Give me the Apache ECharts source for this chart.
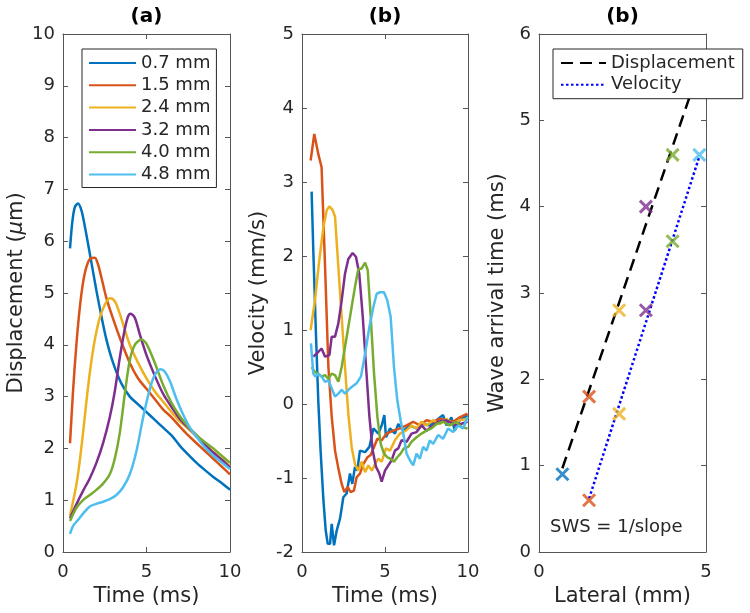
<!DOCTYPE html>
<html>
<head>
<meta charset="utf-8">
<script src="https://cdn.jsdelivr.net/npm/echarts@6/dist/echarts.min.js"></script>
<style>
  html, body { margin: 0; padding: 0; background: #fff; }
  #main { width: 750px; height: 613px; }
</style>
</head>
<body>
<div id="main"></div>
<script>
// MATLAB default colours, one per lateral position
const colors = ['#0072BD', '#D95319', '#EDB120', '#7E2F8E', '#77AC30', '#4DBEEE'];
const sizeLabels = ['0.7 mm', '1.5 mm', '2.4 mm', '3.2 mm', '4.0 mm', '4.8 mm'];

// (a) displacement [time ms, um]
const disp07 = [[0.42,5.86],[0.55,6.35],[0.7,6.65],[0.9,6.73],[1.1,6.6],[1.3,6.3],[1.5,5.95],[1.75,5.5],[2.0,5.05],[2.3,4.55],[2.6,4.1],[3.0,3.65],[3.5,3.25],[4.0,3.0],[4.5,2.85],[5.0,2.7],[5.5,2.55],[6.0,2.4],[6.5,2.25],[7.0,2.05],[7.5,1.88],[8.0,1.72],[8.5,1.58],[9.0,1.45],[9.5,1.33],[10.0,1.2]];
const disp15 = [[0.42,2.1],[0.6,3.1],[0.8,4.0],[1.0,4.7],[1.2,5.2],[1.4,5.5],[1.65,5.67],[1.9,5.68],[2.1,5.55],[2.3,5.3],[2.6,4.9],[3.0,4.5],[3.5,4.05],[4.0,3.65],[4.5,3.35],[5.0,3.15],[5.5,2.95],[6.0,2.75],[6.5,2.6],[7.0,2.42],[7.5,2.25],[8.0,2.1],[8.5,1.95],[9.0,1.8],[9.5,1.65],[10.0,1.5]];
const disp24 = [[0.42,0.7],[0.8,1.3],[1.0,1.75],[1.2,2.3],[1.4,2.9],[1.6,3.45],[1.8,3.9],[2.0,4.25],[2.2,4.52],[2.5,4.77],[2.8,4.9],[3.0,4.88],[3.2,4.78],[3.5,4.5],[4.0,4.0],[4.5,3.65],[5.0,3.35],[5.5,3.1],[6.0,2.9],[6.5,2.7],[7.0,2.52],[7.5,2.38],[8.0,2.23],[8.5,2.08],[9.0,1.93],[9.5,1.8],[10.0,1.65]];
const disp32 = [[0.42,0.65],[0.8,0.92],[1.2,1.18],[1.6,1.42],[2.0,1.72],[2.4,2.1],[2.8,2.6],[3.1,3.1],[3.4,3.75],[3.7,4.3],[3.9,4.55],[4.05,4.6],[4.3,4.52],[4.6,4.2],[5.0,3.8],[5.5,3.4],[6.0,3.05],[6.5,2.8],[7.0,2.57],[7.5,2.4],[8.0,2.25],[8.5,2.07],[9.0,1.92],[9.5,1.78],[10.0,1.63]];
const disp40 = [[0.42,0.6],[0.8,0.85],[1.2,1.0],[1.6,1.1],[2.0,1.2],[2.4,1.32],[2.8,1.5],[3.1,1.8],[3.4,2.3],[3.7,3.05],[4.0,3.7],[4.3,4.0],[4.7,4.1],[5.0,4.02],[5.5,3.65],[6.0,3.22],[6.5,2.88],[7.0,2.62],[7.5,2.42],[8.0,2.25],[8.5,2.12],[9.0,2.0],[9.5,1.86],[10.0,1.72]];
const disp48 = [[0.42,0.35],[0.6,0.5],[0.9,0.62],[1.2,0.74],[1.6,0.88],[2.0,0.93],[2.4,0.97],[2.8,1.02],[3.2,1.1],[3.6,1.25],[4.0,1.5],[4.4,1.95],[4.8,2.6],[5.2,3.15],[5.5,3.42],[5.85,3.53],[6.1,3.48],[6.4,3.3],[6.8,2.95],[7.2,2.65],[7.6,2.4],[8.0,2.22],[8.5,2.02],[9.0,1.86],[9.5,1.73],[10.0,1.6]];

// (b) velocity [time ms, mm/s]
const vel07 = [[0.58,2.87],[0.68,2.08],[0.84,0.95],[0.98,0.05],[1.12,-0.63],[1.29,-1.3],[1.43,-1.71],[1.55,-1.89],[1.69,-1.89],[1.79,-1.62],[1.93,-1.91],[2.09,-1.71],[2.29,-1.55],[2.49,-1.26],[2.69,-1.21],[2.89,-0.94],[3.03,-1.08],[3.19,-0.85],[3.33,-0.9],[3.49,-0.63],[3.8,-0.65],[4.06,-0.58],[4.3,-0.33],[4.6,-0.4],[4.8,-0.29],[4.96,-0.15],[5.06,-0.45],[5.3,-0.33],[5.6,-0.4],[5.8,-0.27],[6.1,-0.36],[6.5,-0.29],[6.9,-0.33],[7.3,-0.27],[7.7,-0.29],[8.1,-0.22],[8.5,-0.15],[8.7,-0.29],[9.0,-0.18],[9.2,-0.36],[9.5,-0.22],[9.97,-0.15]];
const vel15 = [[0.52,3.29],[0.74,3.65],[0.98,3.38],[1.18,3.2],[1.39,1.85],[1.59,0.5],[1.79,-0.17],[1.99,-0.63],[2.19,-0.87],[2.39,-1.08],[2.55,-1.19],[2.75,-1.12],[2.93,-1.19],[3.13,-1.17],[3.29,-0.99],[3.49,-0.94],[3.7,-0.81],[3.94,-0.72],[4.14,-0.69],[4.34,-0.58],[4.54,-0.47],[4.8,-0.49],[5.1,-0.4],[5.5,-0.36],[5.9,-0.33],[6.3,-0.29],[6.7,-0.24],[7.1,-0.29],[7.5,-0.22],[7.9,-0.24],[8.3,-0.2],[8.7,-0.22],[9.1,-0.24],[9.5,-0.18],[9.97,-0.13]];
const vel24 = [[0.52,1.0],[0.78,1.4],[1.04,1.94],[1.29,2.39],[1.49,2.62],[1.65,2.67],[1.85,2.62],[1.99,2.53],[2.19,1.85],[2.39,1.18],[2.59,0.5],[2.79,-0.13],[2.99,-0.58],[3.19,-0.81],[3.39,-0.9],[3.59,-0.78],[3.8,-0.92],[4.0,-0.83],[4.2,-0.9],[4.4,-0.81],[4.6,-0.74],[4.8,-0.78],[5.06,-0.6],[5.3,-0.63],[5.6,-0.49],[5.9,-0.4],[6.26,-0.36],[6.6,-0.29],[6.9,-0.33],[7.2,-0.24],[7.5,-0.29],[7.9,-0.22],[8.3,-0.27],[8.7,-0.2],[9.1,-0.27],[9.5,-0.22],[9.97,-0.2]];
const vel32 = [[0.68,0.64],[0.88,0.68],[1.18,0.75],[1.39,0.64],[1.65,0.66],[1.79,0.91],[1.99,0.91],[2.19,1.09],[2.39,1.4],[2.59,1.76],[2.79,1.96],[3.05,2.04],[3.25,1.99],[3.45,1.76],[3.66,1.18],[3.86,0.5],[4.06,-0.17],[4.26,-0.63],[4.46,-0.85],[4.66,-0.94],[4.8,-1.05],[5.0,-0.9],[5.2,-0.83],[5.4,-0.76],[5.6,-0.63],[5.8,-0.6],[6.0,-0.49],[6.3,-0.51],[6.6,-0.4],[6.9,-0.38],[7.2,-0.29],[7.5,-0.36],[7.9,-0.29],[8.2,-0.24],[8.7,-0.22],[9.3,-0.29],[9.97,-0.24]];
const vel40 = [[0.58,0.5],[0.78,0.43],[0.98,0.41],[1.18,0.37],[1.39,0.39],[1.59,0.34],[1.79,0.41],[1.99,0.39],[2.19,0.3],[2.39,0.5],[2.59,0.77],[2.79,1.04],[2.99,1.31],[3.19,1.58],[3.39,1.82],[3.59,1.83],[3.8,1.91],[3.96,1.81],[4.14,1.18],[4.34,0.41],[4.54,-0.17],[4.74,-0.54],[4.94,-0.67],[5.14,-0.72],[5.34,-0.74],[5.54,-0.78],[5.74,-0.72],[5.94,-0.67],[6.14,-0.6],[6.4,-0.58],[6.6,-0.51],[6.9,-0.45],[7.2,-0.4],[7.5,-0.36],[7.8,-0.33],[8.1,-0.27],[8.5,-0.24],[8.9,-0.29],[9.3,-0.24],[9.6,-0.31],[9.97,-0.33]];
const vel48 = [[0.54,0.82],[0.68,0.41],[0.82,0.37],[0.98,0.41],[1.18,0.37],[1.39,0.3],[1.59,0.32],[1.79,0.21],[1.99,0.1],[2.19,0.14],[2.39,0.19],[2.59,0.14],[2.79,0.19],[2.99,0.23],[3.29,0.28],[3.55,0.37],[3.8,0.68],[4.06,1.04],[4.3,1.31],[4.5,1.49],[4.7,1.51],[4.94,1.51],[5.14,1.4],[5.34,1.18],[5.54,0.5],[5.74,0.05],[5.94,-0.22],[6.14,-0.45],[6.3,-0.67],[6.5,-0.76],[6.7,-0.83],[6.9,-0.67],[7.1,-0.74],[7.3,-0.58],[7.5,-0.63],[7.7,-0.49],[7.9,-0.54],[8.2,-0.42],[8.5,-0.47],[8.8,-0.33],[9.1,-0.38],[9.4,-0.29],[9.7,-0.33],[9.97,-0.18]];

// (c) arrival times
const lateralPos = [0.7, 1.5, 2.4, 3.2, 4.0, 4.8];
const dispArrival = [0.9, 1.8, 2.8, 4.0, 4.6, null];
const velArrival = [null, 0.6, 1.6, 2.8, 3.6, 4.6];
const dispFit = [[0.7, 0.97], [4.8, 5.6]];
const velFit = [[1.5, 0.62], [4.8, 4.58]];

const dispSeries = [disp07, disp15, disp24, disp32, disp40, disp48];
const velSeries = [vel07, vel15, vel24, vel32, vel40, vel48];

const ink = '#262626';
const lineCol = '#555555';
const font = 'DejaVu Sans';

let grids = [
  {left: 63, top: 34, width: 167, height: 518},
  {left: 302, top: 34, width: 166, height: 518},
  {left: 539, top: 34, width: 167, height: 518}
];
grids.forEach(g => { g.containLabel = false; g.outerBoundsMode = 'none'; });

let xSpec = [
  {max: 10, name: 'Time (ms)'},
  {max: 10, name: 'Time (ms)'},
  {max: 5, name: 'Lateral (mm)'}
];
let ySpec = [
  {min: 0, max: 10, name: 'Displacement ({it|μ}m)', gap: 36},
  {min: -2, max: 5, name: 'Velocity (mm/s)', gap: 33},
  {min: 0, max: 6, name: 'Wave arrival time (ms)', gap: 31}
];

let xAxis = [], yAxis = [];
for (let i = 0; i < 3; i++) {
  ['bottom', 'top'].forEach(pos => {
    xAxis.push({
      gridIndex: i, type: 'value', position: pos, min: 0, max: xSpec[i].max, interval: 5,
      name: pos === 'bottom' ? xSpec[i].name : '',
      nameLocation: 'middle', nameGap: 33,
      nameTextStyle: {fontSize: 21, color: ink, fontFamily: font},
      axisLine: {show: true, onZero: false, lineStyle: {color: lineCol, width: 1}},
      axisTick: {show: true, inside: true, length: 5, lineStyle: {color: lineCol}},
      axisLabel: {show: pos === 'bottom', fontSize: 18, color: ink, margin: 11, fontFamily: font},
      splitLine: {show: false}
    });
  });
  ['left', 'right'].forEach(pos => {
    yAxis.push({
      gridIndex: i, type: 'value', position: pos, min: ySpec[i].min, max: ySpec[i].max, interval: 1,
      name: pos === 'left' ? ySpec[i].name : '',
      nameLocation: 'middle', nameGap: ySpec[i].gap, nameRotate: 90,
      nameTextStyle: {fontSize: 21, color: ink, fontFamily: font,
        rich: {it: {fontSize: 21, fontStyle: 'italic', color: ink, fontFamily: font}}},
      axisLine: {show: true, onZero: false, lineStyle: {color: lineCol, width: 1}},
      axisTick: {show: true, inside: true, length: 5, lineStyle: {color: lineCol}},
      axisLabel: {show: pos === 'left', fontSize: 18, color: ink, margin: 8, fontFamily: font},
      splitLine: {show: false}
    });
  });
}

let series = [];
dispSeries.forEach((d, k) => {
  series.push({
    name: sizeLabels[k], type: 'line', xAxisIndex: 0, yAxisIndex: 0,
    data: d, symbol: 'none', smooth: 0.3,
    lineStyle: {color: colors[k], width: 2.5}, itemStyle: {color: colors[k]}
  });
});
velSeries.forEach((d, k) => {
  series.push({
    name: sizeLabels[k], type: 'line', xAxisIndex: 2, yAxisIndex: 2,
    data: d, symbol: 'none',
    lineStyle: {color: colors[k], width: 2.5}, itemStyle: {color: colors[k]}
  });
});
series.push({
  name: 'Displacement', type: 'line', xAxisIndex: 4, yAxisIndex: 4,
  data: dispFit, symbol: 'none',
  lineStyle: {color: '#000', width: 2.5, type: [12, 7]}, itemStyle: {color: '#000'}
});
series.push({
  name: 'Velocity', type: 'line', xAxisIndex: 4, yAxisIndex: 4,
  data: velFit, symbol: 'none',
  lineStyle: {color: '#0000ff', width: 2.5, type: [2.5, 2.5]}, itemStyle: {color: '#0000ff'}
});
let marks = [];
lateralPos.forEach((x, k) => {
  [dispArrival[k], velArrival[k]].forEach(y => {
    if (y != null) marks.push({value: [x, y], itemStyle: {borderColor: colors[k]}});
  });
});
series.push({
  name: 'arrival', type: 'scatter', xAxisIndex: 4, yAxisIndex: 4, z: 3,
  symbol: 'path://M0,0L10,10M10,0L0,10', symbolSize: 12,
  itemStyle: {color: 'none', borderWidth: 3},
  data: marks
});

const legendBase = {
  orient: 'vertical', selectedMode: false,
  borderColor: ink, borderWidth: 1, backgroundColor: '#fff',
  itemHeight: 14,
  itemStyle: {opacity: 0},
  textStyle: {fontSize: 18, color: ink, fontFamily: font, lineHeight: 18}
};

let option = {
  animation: false,
  textStyle: {fontFamily: font},
  grid: grids,
  xAxis: xAxis,
  yAxis: yAxis,
  legend: [
    Object.assign({}, legendBase, {
      left: 82, top: 49, data: sizeLabels, itemWidth: 47, itemGap: 4.3,
      padding: [5, 6, 4, 6]
    }),
    Object.assign({}, legendBase, {
      left: 553, top: 49, data: ['Displacement', 'Velocity'], itemWidth: 45, itemGap: 3.7,
      padding: [5, 8, 5, 7]
    })
  ],
  graphic: [
    {type: 'text', x: 146.5, y: 17, style: {text: '(a)', align: 'center', verticalAlign: 'middle', font: 'bold 20px "DejaVu Sans"', fill: '#000'}},
    {type: 'text', x: 385, y: 17, style: {text: '(b)', align: 'center', verticalAlign: 'middle', font: 'bold 20px "DejaVu Sans"', fill: '#000'}},
    {type: 'text', x: 622.5, y: 17, style: {text: '(b)', align: 'center', verticalAlign: 'middle', font: 'bold 20px "DejaVu Sans"', fill: '#000'}},
    {type: 'text', x: 550, y: 527, style: {text: 'SWS = 1/slope', align: 'left', verticalAlign: 'middle', font: '18px "DejaVu Sans"', fill: ink}}
  ],
  series: series
};

let chart = echarts.init(document.getElementById('main'));
chart.setOption(option);
window.addEventListener('resize', () => { chart.resize(); });
</script>
</body>
</html>
